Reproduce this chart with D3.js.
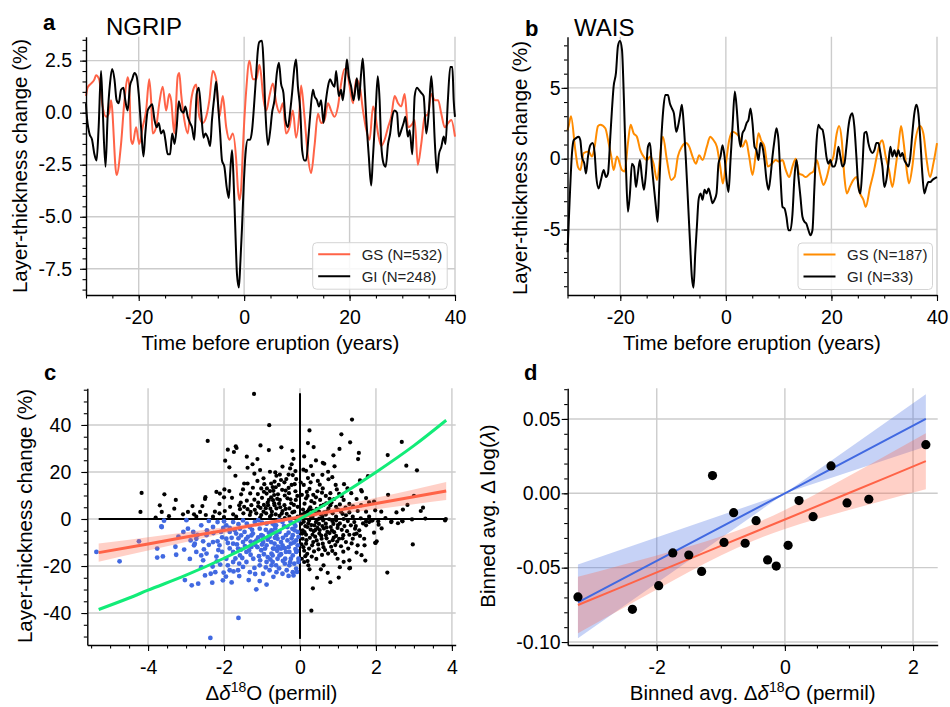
<!DOCTYPE html>
<html lang="en">
<head>
<meta charset="UTF-8">
<title>Layer thickness</title>
<script src="https://d3js.org/d3.v7.min.js"></script>
<style>
  html, body { margin: 0; padding: 0; background: #fff; }
  svg { display: block; }
</style>
</head>
<body>
<script>
const FONT = "Liberation Sans, Arial, Helvetica, sans-serif";

// panel a: NGRIP, [time, change %]
const ngripGS = [[-30,0.8],[-29.7,1.2],[-29.05,1.4],[-28.4,1.6],[-28.1,1.8],[-27.5,1.6],[-26.85,0.3],[-26.2,-0.2],[-25.6,0.0],[-25.25,0.6],[-24.2,-3.0],[-23.35,-1.5],[-22.7,0.6],[-22.1,1.7],[-21.8,1.3],[-21.45,-1.3],[-21.15,-1.5],[-20.5,-0.7],[-19.9,-1.5],[-19.25,-0.7],[-18.6,0.1],[-18.0,1.6],[-17.65,0.6],[-17.35,-1.0],[-16.7,-0.7],[-16.1,0.45],[-15.45,1.25],[-14.8,0.1],[-14.2,0.9],[-13.85,0.6],[-13.25,-1.0],[-12.6,1.75],[-12.3,1.9],[-11.95,0.9],[-11.35,-0.35],[-10.7,-1.0],[-10.05,0.6],[-9.45,1.25],[-9.1,1.35],[-8.5,-0.2],[-7.85,-0.5],[-7.2,-0.2],[-6.6,0.6],[-5.95,2.0],[-5.3,1.6],[-4.7,-0.2],[-4.05,0.8],[-3.4,-0.7],[-2.8,-1.3],[-2.15,-1.0],[-1.5,-2.3],[-1.2,-3.6],[-0.9,-4.2],[-0.55,-3.6],[-0.25,-1.8],[0.4,1.1],[1.0,2.5],[1.65,1.6],[2.3,1.6],[2.9,2.3],[3.25,1.75],[3.55,0.9],[4.2,0.1],[4.8,0.8],[5.45,1.4],[6.1,0.45],[6.7,0.0],[7.35,0.45],[7.95,-1.0],[8.6,-0.7],[9.25,0.1],[9.85,-1.2],[10.5,0.1],[10.8,1.3],[11.45,-0.2],[12.1,-2.1],[12.7,-2.9],[13.35,-1.6],[14.0,-0.05],[14.6,-0.5],[15.25,-0.35],[15.9,0.45],[16.5,0.1],[17.15,-0.2],[17.8,0.3],[18.4,1.4],[19.05,2.1],[19.7,1.75],[20.0,1.3],[20.65,0.45],[21.25,1.6],[21.9,1.3],[22.55,0.1],[23.15,-0.8],[23.8,-1.3],[24.45,0.3],[24.75,0.1],[25.4,-1.0],[26.0,-1.6],[26.65,-1.3],[27.3,-0.7],[27.9,-0.2],[28.55,0.8],[29.2,0.45],[29.8,0.3],[30.45,0.9],[31.1,-0.7],[32.0,-0.5],[32.35,-0.35],[32.95,-2.5],[33.6,-1.5],[34.25,-0.2],[34.9,-0.05],[35.5,0.9],[36.15,0.6],[36.8,0.6],[37.4,-0.05],[38.05,-0.7],[38.7,-0.5],[39.3,-0.35],[40,-1.15]];
const ngripGI = [[-30,0.45],[-29.9,0.0],[-29.35,-1.0],[-28.85,-1.3],[-28.4,-2.0],[-28.0,-2.3],[-27.6,-0.7],[-27.15,2.0],[-26.85,0.3],[-26.3,-2.6],[-25.9,-0.2],[-25.45,1.4],[-25.05,2.1],[-24.6,1.6],[-24.2,0.6],[-23.8,0.45],[-23.35,1.1],[-22.9,1.2],[-22.55,0.6],[-22.1,0.1],[-21.65,1.3],[-21.25,1.6],[-20.8,1.9],[-20.4,1.75],[-20.0,0.9],[-19.55,-0.7],[-19.1,-2.1],[-18.75,-1.0],[-18.3,0.1],[-17.85,0.3],[-17.45,0.4],[-17.0,-0.35],[-16.6,-0.7],[-16.2,-0.5],[-15.75,-1.0],[-15.3,-0.85],[-14.95,-1.3],[-14.5,-2.0],[-14.05,-2.0],[-13.65,-1.0],[-13.2,-1.5],[-12.8,-0.7],[-12.4,0.55],[-11.95,0.1],[-11.5,0.0],[-11.15,0.3],[-10.7,-0.2],[-10.25,-0.5],[-9.9,-0.7],[-9.45,-1.3],[-9.0,0.9],[-8.6,1.2],[-8.15,0.0],[-7.7,-1.2],[-7.35,-1.0],[-6.9,-1.2],[-6.45,-1.6],[-6.1,-0.35],[-5.65,0.8],[-5.3,1.5],[-5.0,0.6],[-4.55,-1.0],[-4.2,-2.3],[-3.75,-2.6],[-3.3,-3.6],[-2.9,-4.1],[-2.65,-2.9],[-2.3,-1.8],[-2.05,-2.9],[-1.65,-5.8],[-1.35,-7.8],[-1.0,-8.4],[-0.7,-7.1],[-0.4,-5.5],[-0.1,-3.6],[0.25,-2.0],[0.7,-1.3],[1.15,-1.3],[1.5,-0.85],[1.95,0.6],[2.3,1.9],[2.6,3.0],[2.9,3.4],[3.4,3.45],[3.65,2.55],[4.05,0.0],[4.5,-1.55],[4.95,-0.85],[5.3,0.0],[5.75,0.6],[6.2,1.9],[6.6,2.4],[7.0,1.4],[7.45,0.95],[7.85,-0.35],[8.3,-0.7],[8.75,0.1],[9.1,0.95],[9.55,2.2],[9.85,2.55],[10.2,1.25],[10.65,0.1],[11.0,-1.8],[11.45,-2.3],[11.75,-2.3],[12.25,-1.0],[12.5,-0.2],[13.05,1.1],[13.35,0.8],[13.8,0.6],[14.2,0.3],[14.6,0.6],[15.05,-0.5],[15.45,0.45],[15.9,1.25],[16.3,1.6],[16.7,1.4],[17.15,1.25],[17.45,2.0],[17.95,0.8],[18.4,1.1],[18.7,0.6],[19.25,1.9],[19.5,2.55],[19.85,1.75],[20.3,1.25],[20.75,0.6],[21.15,1.25],[21.4,1.65],[21.75,0.6],[22.2,1.9],[22.5,2.6],[22.85,1.25],[23.15,-0.2],[23.65,-2.1],[24.1,-3.5],[24.4,-2.3],[24.95,0.1],[25.35,1.75],[25.7,0.6],[26.0,-1.5],[26.45,-2.45],[26.85,-2.6],[27.3,-1.5],[27.7,-1.0],[28.1,-0.2],[28.55,0.1],[29.0,0.0],[29.35,-1.15],[29.8,-0.85],[30.25,-0.5],[30.6,-0.2],[31.05,-1.15],[31.4,-0.85],[31.9,-2.0],[32.35,0.8],[32.8,1.2],[33.15,1.1],[33.6,0.95],[34.05,0.8],[34.55,-1.0],[35.05,0.1],[35.5,1.75],[35.8,0.8],[36.15,-1.3],[36.6,-2.9],[36.95,-2.0],[37.4,-1.65],[37.85,-1.15],[38.2,-1.5],[38.65,0.6],[39.1,2.2],[39.5,2.2],[39.75,0.6],[40,-0.2]];

// panel b: WAIS
const waisGS = [[-30,2.0],[-29.78,2.3],[-29.34,3.0],[-28.52,0.6],[-28.01,-0.6],[-27.57,-0.8],[-26.94,0.4],[-25.99,0.5],[-25.36,0.15],[-24.86,0.85],[-24.23,2.3],[-23.79,2.4],[-22.84,2.15],[-22.21,1.1],[-21.7,0.15],[-21.26,-0.8],[-20.63,0.15],[-19.68,-0.8],[-19.18,-0.9],[-18.55,1.1],[-18.04,2.4],[-17.48,1.8],[-16.85,1.55],[-16.21,0.6],[-15.58,0.15],[-14.95,-0.1],[-14.32,0.15],[-13.69,-0.35],[-13.06,-1.5],[-11.92,1.55],[-11.17,-0.1],[-10.35,-1.5],[-9.72,-1.3],[-9.09,0.15],[-8.33,0.85],[-7.57,1.1],[-6.94,0.85],[-6.31,0.15],[-5.68,-0.35],[-5.05,0.25],[-4.42,-0.1],[-3.6,0.85],[-2.97,1.55],[-2.33,1.3],[-1.7,0.85],[-1.07,-0.55],[-0.57,-1.75],[0,-0.35],[0.63,1.3],[1.26,1.9],[1.89,1.8],[2.52,1.55],[3.15,0.85],[3.79,1.3],[4.42,0.15],[5.05,-1.15],[5.68,0.4],[6.18,1.8],[6.69,1.3],[7.32,0.85],[7.95,-0.55],[8.71,-0.35],[9.46,-0.1],[10.09,-0.2],[10.73,-0.1],[11.36,-0.8],[11.99,-1.3],[12.62,-0.55],[13.25,0.0],[13.88,-1.05],[14.51,-1.15],[15.14,-1.3],[15.96,-1.05],[16.59,-0.9],[17.22,-0.1],[17.85,-1.05],[18.49,-1.85],[19.12,-1.3],[19.75,-0.35],[20.38,0.15],[21.01,1.8],[21.45,2.3],[21.96,1.3],[22.46,-1.3],[22.9,-2.45],[23.53,-1.95],[24.16,-1.5],[24.79,-1.3],[25.43,-2.45],[26.06,-2.9],[26.5,-3.4],[27.32,-2.0],[27.95,-1.05],[28.58,0.15],[29.21,1.1],[29.65,1.3],[30.28,0.15],[30.91,-0.8],[31.55,-2.0],[32.18,-0.55],[32.68,0.85],[33.19,2.3],[33.63,1.3],[34.26,-0.8],[34.7,-1.75],[35.33,-0.55],[35.84,1.1],[36.78,2.3],[37.41,1.8],[38.04,-0.1],[38.68,-1.3],[39.31,-0.35],[40,1.1]];
const waisGI = [[-30,-6.6],[-29.59,-2.9],[-29.15,0.4],[-28.83,1.3],[-28.39,1.45],[-27.89,1.55],[-27.57,1.3],[-27.26,0.15],[-26.81,-0.35],[-26.5,-1.05],[-26.12,0.15],[-25.68,0.95],[-25.24,1.1],[-24.86,0.4],[-24.54,-1.3],[-24.1,-2.1],[-23.66,-1.5],[-23.15,-0.8],[-22.71,-1.3],[-22.33,-1.05],[-21.89,1.55],[-21.58,3.45],[-21.26,5.1],[-20.82,6.05],[-20.44,7.95],[-20.06,8.3],[-19.68,7.7],[-19.31,4.15],[-18.93,-0.55],[-18.55,-3.75],[-18.17,-2.45],[-17.79,-0.35],[-17.41,-0.55],[-17.03,-2.0],[-16.66,-1.05],[-16.28,-0.1],[-15.9,-1.3],[-15.52,-2.2],[-15.14,-1.05],[-14.76,0.85],[-14.38,1.1],[-14.01,-0.55],[-13.63,-2.0],[-13.25,-3.4],[-12.93,-4.45],[-12.62,-2.0],[-12.24,1.3],[-11.86,3.45],[-11.48,4.5],[-10.98,4.5],[-10.6,3.9],[-10.22,3.55],[-9.84,3.2],[-9.4,1.9],[-9.09,2.25],[-8.71,3.0],[-8.33,3.8],[-7.95,2.25],[-7.57,-0.1],[-7.19,-2.9],[-6.81,-5.75],[-6.44,-8.35],[-6.12,-9.1],[-5.8,-6.7],[-5.49,-4.8],[-5.17,-2.9],[-4.79,-2.45],[-4.42,-2.9],[-4.04,-2.2],[-3.66,-2.45],[-3.28,-2.1],[-2.9,-2.6],[-2.52,-3.15],[-2.15,-2.9],[-1.77,-2.45],[-1.39,-0.35],[-1.01,0.15],[-0.63,0.95],[-0.25,0.15],[0.13,-1.5],[0.5,-2.35],[0.88,-0.1],[1.26,2.25],[1.7,4.75],[2.08,3.45],[2.4,1.8],[2.78,0.85],[3.15,1.8],[3.53,2.05],[3.91,2.5],[4.29,2.75],[4.67,3.55],[5.05,2.5],[5.43,0.85],[5.8,0.6],[6.18,-0.1],[6.56,1.1],[6.94,0.85],[7.32,-0.1],[7.7,-1.5],[8.08,-2.2],[8.45,-1.3],[8.83,0.15],[9.21,1.3],[9.59,2.15],[9.97,1.3],[10.35,-1.3],[10.73,-3.4],[11.1,-3.5],[11.48,-4.1],[11.86,-5.05],[12.24,-5.05],[12.62,-3.9],[13.0,-1.3],[13.38,-0.1],[13.75,-1.3],[14.13,-2.7],[14.51,-4.1],[14.89,-4.45],[15.27,-4.6],[15.65,-5.05],[16.03,-5.4],[16.4,-5.05],[16.78,-2.0],[17.16,1.1],[17.54,2.4],[17.92,2.15],[18.3,2.05],[18.68,1.3],[19.05,0.15],[19.43,-0.35],[19.81,-0.1],[20.19,-0.55],[20.57,-0.55],[20.95,-0.1],[21.32,0.85],[21.7,0.15],[22.08,-0.55],[22.46,-0.35],[22.84,0.85],[23.22,2.25],[23.6,3.0],[23.97,3.2],[24.35,2.25],[24.73,0.15],[25.11,-2.0],[25.49,-2.45],[25.87,-0.55],[26.25,1.8],[26.62,1.9],[27.0,1.1],[27.38,0.6],[27.76,0.4],[28.14,0.6],[28.52,1.1],[28.9,1.1],[29.27,0.4],[29.65,-0.55],[30.03,-2.0],[30.41,-1.5],[30.79,-0.35],[31.17,0.85],[31.55,0.15],[31.92,0.6],[32.3,0.15],[32.68,0.6],[33.06,0.15],[33.44,0.4],[33.82,-0.1],[34.2,-0.35],[34.57,-0.55],[34.95,0.15],[35.33,1.8],[35.71,3.2],[36.09,3.8],[36.47,3.2],[36.85,1.3],[37.22,-1.05],[37.6,-2.45],[37.98,-2.0],[38.36,-1.65],[38.74,-1.65],[39.12,-1.5],[39.5,-1.4],[40,-1.3]];

// panel c: scatter [d18O change, layer-thickness change %]
const cBlack = [[-1.21,53.2],[-0.81,39.9],[-2.43,33.2],[-1.9,29.5],[-1.69,30.9],[-1.67,30.2],[-1.74,28.5],[-1.04,31.3],[-0.82,29.3],[-1.97,24.8],[-1.86,22.0],[-1.4,26.5],[-1.25,23.3],[-1.12,25.5],[-1.38,21.8],[-0.79,20.1],[-1.7,18.4],[-1.2,19.3],[-0.96,17.3],[-1.12,16.2],[-1.47,15.1],[-1.38,15.1],[-0.94,14.8],[-0.62,18.4],[-0.76,15.1],[-4.17,11.1],[-3.57,10.5],[-4.2,3.0],[-3.69,5.8],[-3.64,3.0],[-3.27,8.1],[-3.31,4.4],[-2.83,5.5],[-2.95,3.0],[-2.57,5.5],[-2.49,9.3],[-2.5,8.5],[-2.2,11.5],[-2.11,10.8],[-1.99,12.6],[-1.86,11.9],[-2.0,9.2],[-2.12,6.4],[-1.79,9.0],[-1.55,10.5],[-1.31,10.9],[-1.24,13.3],[-1.11,10.6],[-1.02,13.0],[-0.88,10.8],[-0.79,11.9],[-0.68,10.2],[-0.72,13.6],[-0.87,13.0],[-0.82,8.1],[-0.64,13.5],[-2.63,3.0],[-2.79,2.0],[-2.48,1.7],[-2.24,3.1],[-2.12,2.4],[-1.98,3.4],[-1.84,5.2],[-1.76,2.0],[-1.56,7.0],[-1.58,4.2],[-1.47,5.2],[-1.38,4.2],[-1.28,5.9],[-1.19,3.9],[-1.1,7.0],[-1.04,4.7],[-0.96,3.1],[-0.84,5.9],[-0.78,4.4],[-0.71,8.0],[-0.67,5.8],[-1.49,2.4],[-1.32,1.7],[-1.15,2.4],[-1.02,1.7],[-0.89,2.4],[-0.75,1.7],[-0.64,2.0],[-3.08,2.0],[-2.73,1.0],[-2.29,1.0],[-1.68,1.0],
[1.37,42.3],[0.25,37.7],[1.09,36.0],[0.21,32.3],[0.36,30.6],[1.32,32.6],[1.04,29.8],[-0.49,30.5],[1.55,28.1],[1.53,25.5],[0.88,27.1],[-0.17,25.6],[0.11,26.6],[0.42,24.9],[0.64,23.5],[0.6,23.9],[0.29,22.5],[0.91,22.4],[-0.46,22.3],[-0.22,23.3],[-0.26,21.5],[0.09,21.0],[0.74,20.1],[0.34,18.8],[0.59,18.8],[-0.53,18.9],[-0.65,19.8],[-0.3,18.9],[-0.19,18.7],[-0.12,20.4],[0.21,17.4],[0.47,16.2],[0.75,16.9],[0.94,14.5],[1.16,14.8],[1.58,16.4],[1.79,18.2],[-0.67,15.9],[-0.56,14.5],[-0.41,15.6],[-0.22,14.5],[-0.38,12.1],[-0.14,14.8],[-0.7,12.0],[-0.47,12.4],[-0.29,11.0],[0.1,14.5],[0.25,12.8],[0.35,10.3],[0.6,13.0],[0.8,11.0],[1.03,10.7],[1.35,11.0],[1.63,11.7],[1.74,8.9],[-0.76,9.2],[-0.53,8.1],[-0.33,8.8],[-0.11,8.1],[0.05,10.3],[0.16,8.8],[0.3,7.6],[0.53,8.1],[0.69,6.7],[0.9,8.5],[1.15,8.1],[1.3,6.4],[1.49,8.5],[1.61,5.9],[1.82,7.1],[1.95,7.4],[2.31,27.2],[2.68,32.8],[2.8,22.7],[3.08,20.7],[2.32,10.3],[3.0,9.9],[2.71,4.0],[2.54,2.8],[3.24,4.8],[3.18,3.4],[2.83,6.0],[1.98,3.7],[2.14,3.1],[1.74,3.1],[1.52,3.4],[1.3,2.8],[1.08,3.1],[0.86,2.4],[0.64,2.8],[0.42,2.4],[0.2,3.1],[0.07,2.0],[-0.74,3.1],[-0.62,4.5],[-0.46,3.4],[-0.28,4.5],[-0.15,3.1],[-0.06,5.2],[-0.68,6.7],[-0.41,5.9],[-0.23,6.7],[-0.07,9.8],[-0.79,1.0],[-0.54,1.3],[-0.28,1.0],[-0.06,1.0],[0.29,1.0],[0.59,1.0],[0.95,1.0],[1.39,1.0],[1.82,1.0],
[3.84,0],[2.69,-0.7],[2.41,-1.1],[2.06,-1.0],[1.88,-0.7],[1.98,-10.1],[2.97,-10.8],[2.3,-22.8],[1.72,-17.7],[1.3,-21.0],[1.02,-24.9],[0.8,-26.9],[0.34,-29.5],[0.3,-39.0],[1.61,12.3],[0.25,-21.4],[0.55,-21.4],[0.62,-19.7],[0.73,-22.9],[1.32,-20.8],[1.3,-17.6],[1.99,-10.2],[2.02,-9.5],[1.7,-11.2],[1.49,-14.3],[1.27,-12.6],[1.14,-13.9],[0.99,-16.9],[0.85,-13.6],[0.74,-14.7],[0.58,-15.3],[0.49,-12.9],[0.31,-16.0],[0.2,-17.9],[0.11,-13.5],[0.16,-10.5],[0.32,-11.2],[0.44,-9.1],[0.6,-10.5],[0.77,-9.8],[0.93,-11.1],[1.03,-8.4],[1.21,-9.8],[1.39,-8.4],[1.52,-11.2],[1.69,-8.4],[1.3,-6.7],[1.43,-6.5],[1.49,-6.2],[1.14,-6.9],[0.95,-7.2],[0.84,-4.8],[0.68,-6.9],[0.51,-6.2],[0.33,-6.7],[0.16,-6.7],[0.07,-4.8],[0.2,-3.4],[0.38,-2.7],[0.46,-3.8],[0.59,-3.0],[0.68,-2.0],[0.81,-3.4],[0.99,-3.8],[1.17,-3.0],[1.34,-2.7],[1.47,-3.0],[1.74,-2.7],[1.82,-1.3],[1.91,-0.6],[2.07,-2.4],[1.74,-1.0],[2.4,-1.3],[2.7,-1.0],[3.82,-0.6],[0.03,-2.0],[0.05,0.2],[0.24,-0.6],[0.42,-1.3],[0.61,-0.6],[0.77,-0.1],[0.95,-0.6],[0.51,0.2],[0.16,1.6],[0.33,0.9],[0.68,1.9],[1.21,1.6],[1.43,-1.3],[1.56,-4.8],[0.07,-8.4],[0.24,-12.6],[0.05,-16.9],[0.11,-18.3],[0.22,-19.7],
[0.1,-1.2],[0.14,-3.0],[0.28,-4.5],[0.36,-5.2],[0.45,-0.4],[0.52,-4.7],[0.63,-4.0],[0.72,-5.5],[0.88,-2.1],[0.9,-5.6],[1.05,-1.9],[1.1,-4.6],[0.26,-8.0],[0.4,-7.5],[0.57,-8.4],[0.7,-8.2],[0.86,-9.0],[0.12,-5.6],[0.04,-10.8],[0.19,-14.8],[0.37,-13.8],[0.43,-17.0],[0.62,-12.0],[0.93,-14.8],[1.08,-11.6],[0.08,4.0],[0.27,5.0],[0.44,4.3],[0.55,5.6],[0.75,4.5],[0.95,5.2],[1.2,4.8],[0.12,6.5],[0.38,6.8],[0.83,7.0],[1.05,6.2],[0.18,11.5],[0.46,11.8],[0.68,9.8],[0.97,12.6],[1.25,13.0],[-0.35,2.2],[-0.52,5.0],[-0.2,2.8],[-0.85,7.0],[-1.0,9.0],[-1.2,8.2],[-0.95,6.0],[-1.4,7.8],[-0.58,10.5],[-0.4,10.0],[-0.12,11.8],[-0.1,17.0],[-0.36,17.0],[0.02,15.5],[0.55,2.0],[0.85,-0.8],[1.15,0.0],[1.6,0.3],[2.25,0.4],[2.95,-0.2],[3.3,0.2],[-3.8,0.6],[-3.45,1.2],[-2.0,0.8],[-1.05,0.5],[-0.4,0.4],[2.58,-1.8],[2.15,-4.0],[1.95,-5.8],[1.62,-15.4],[1.15,-18.2],[0.45,-25.0],[1.05,-20.5],
[0.06,-6.2],[0.09,-12.0],[0.14,-15.8],[0.17,-9.0],[0.22,-1.8],[0.3,-2.6],[0.35,-9.8],[0.41,-4.6],[0.48,-10.8],[0.5,-2.1],[0.56,-7.1],[0.66,-13.2],[0.7,-3.6],[0.78,-6.0],[0.82,-11.8],[0.89,-7.9],[0.98,-9.6],[1.0,-2.6],[1.12,-8.2],[1.24,-5.2],[1.26,-0.9],[1.36,-10.4],[1.45,-4.1],[1.58,-7.2],[1.66,-1.9],[0.13,2.6],[0.24,4.1],[0.33,3.6],[0.5,3.2],[0.62,6.0],[0.72,3.3],[0.8,5.8],[1.0,4.0],[1.12,2.2],[1.4,5.4],[0.2,9.8],[0.42,9.2],[0.58,11.2],[0.78,8.6],[1.1,9.7],[0.28,15.6],[0.52,14.6],[0.85,17.8],[0.16,20.5],[-0.55,6.5],[-0.38,4.3],[-0.25,8.4],[-0.16,6.0],[-0.48,2.3],[-0.9,4.6],[-1.1,5.4],[-1.3,3.0],[-1.6,5.8],[-0.6,8.6],[-0.95,11.6],[-0.3,13.2],[-1.5,12.6],[-0.5,16.6],[-1.05,20.8],[-0.2,29.0]];
const cBlue = [[-5.36,-14.0],[-4.75,-18.0],[-4.24,-9.5],[-3.76,-12.6],[-3.76,-16.4],[-3.61,-15.9],[-3.64,-3.4],[-3.58,-0.7],[-3.28,-11.8],[-3.26,-15.2],[-3.03,-26.0],[-2.85,-28.2],[-2.68,-27.5],[-2.95,-4.1],[-2.88,-9.1],[-2.77,-10.5],[-2.99,-0.5],[-2.79,-11.2],[-2.73,-8.4],[-2.55,-17.6],[-2.53,-12.9],[-2.46,-6.9],[-2.35,-23.3],[-2.31,-27.1],[-2.23,-22.6],[-2.19,-18.0],[-2.17,-9.5],[-2.05,-14.0],[-2.01,-22.8],[-2.03,-26.1],[-2.1,-19.4],[-1.9,-19.7],[-1.85,-21.8],[-1.75,-22.3],[-1.63,-21.8],[-1.62,-42.1],[-2.36,-50.6],[-1.6,-24.3],[-1.15,-29.9],[-1.06,-26.4],[-0.88,-27.9],[-3.07,-5.5],[-2.81,-5.5],[-2.6,-2.7],[-2.45,-4.8],[-2.29,-3.4],[-2.17,-1.3],[-1.94,-2.7],[-1.76,-1.3],[-1.5,-0.6],[-1.32,-3.4],[-1.19,-1.3],[-1.06,-4.1],[-0.88,-2.0],[-0.75,-4.8],[-0.67,-2.7],[-2.29,-9.8],[-2.12,-11.2],[-1.94,-8.4],[-1.76,-10.5],[-1.63,-12.6],[-1.5,-9.8],[-1.41,-14.0],[-1.28,-11.9],[-1.15,-9.1],[-1.02,-13.3],[-0.88,-11.2],[-0.75,-14.7],[-0.67,-10.5],[-1.94,-16.9],[-1.76,-18.3],[-1.58,-15.5],[-1.41,-18.3],[-1.23,-16.9],[-1.06,-19.7],[-0.88,-18.3],[-0.75,-19.7],[-1.32,-22.6],[-1.5,-20.4],[-0.97,-23.3],[-0.8,-21.8],[-1.76,-14.0],[-2.08,-5.5],[-1.85,-5.5],[-1.68,-6.2],[-1.46,-5.5],[-1.24,-6.2],[-1.02,-6.9],[-0.8,-7.6],[-0.62,-6.9],[-1.58,-4.1],[-1.37,-7.6],[-1.19,-9.8],[-0.97,-9.8],[-0.71,-12.6],[-2.6,-15.5],[-2.46,-14.7],[-2.73,-14.0],
[-0.72,-5.5],[-0.59,-8.4],[-0.46,-11.2],[-0.33,-9.1],[-0.19,-6.9],[-0.06,-5.5],[-0.68,-12.6],[-0.54,-15.5],[-0.37,-14.0],[-0.24,-16.9],[-0.1,-14.0],[-0.04,-16.9],[-0.72,-18.3],[-0.63,-19.7],[-0.46,-23.3],[-0.4,-19.0],[-0.19,-22.6],[-0.17,-24.0],[-0.28,-19.7],[-0.15,-19.0],[-0.06,-11.2],[-0.63,-2.7],[-0.46,-1.3],[-0.33,-3.4],[-0.15,-2.0],[-0.04,-0.6],[-0.76,-9.8],[-0.54,-5.5],[-0.37,-6.9],[-0.24,-10.5],[-0.1,-9.1],[-0.04,-7.6],[-0.5,-12.6],[-0.28,-14.0],[-0.59,-16.9],[-0.1,-21.1],[-0.04,-18.3],[-0.72,-15.5],[-0.39,-16.9],[-0.19,-15.5],
[-3.65,-3.2],[-2.4,-0.8],[-2.0,-1.0],[-1.62,-2.2],[-1.4,-2.0],[-1.1,-0.5],[-0.9,-4.6],[-0.55,-0.6],[-0.25,-1.0],[-1.85,-12.5],[-1.55,-13.0],[-1.3,-15.2],[-1.12,-12.0],[-0.95,-15.0],[-0.6,-13.5],[-0.3,-12.0],[-0.12,-12.8],[-0.45,-8.0],[-0.85,-8.8],[-1.1,-7.8],[-1.3,-9.6],[-1.62,-8.2],[-2.05,-7.8],[-2.4,-11.0],[-2.55,-9.5],[-2.2,-16.0],[-1.7,-16.8],[-1.2,-20.8],[-0.55,-21.0],[-0.3,-24.2],[-0.85,-16.2],[-1.45,-11.5],[-1.0,-10.9],[-0.65,-4.0],[-0.2,-4.2],[-0.12,-3.0],[-1.85,-3.8],[-2.7,-6.8],[-3.2,-7.5],[-3.05,-13.0],[-2.9,-17.0],[-2.6,-20.5],[-1.95,-24.5],[-1.35,-26.0],[-1.8,-27.0],[-2.5,-24.0],[-0.7,-24.6],[-0.45,-17.8],[-0.08,-22.5],
[-0.14,-4.8],[-0.22,-8.2],[-0.3,-5.8],[-0.42,-3.0],[-0.5,-9.8],[-0.58,-11.8],[-0.66,-8.0],[-0.82,-5.8],[-0.92,-12.6],[-0.98,-7.2],[-1.08,-15.8],[-1.18,-11.0],[-1.26,-4.6],[-1.34,-13.4],[-1.42,-8.6],[-1.52,-16.6],[-1.66,-10.8],[-1.72,-4.8],[-1.9,-10.2],[-2.02,-3.8],[-2.15,-13.2],[-2.28,-6.0],[-0.08,-13.6],[-0.35,-21.8],[-0.62,-22.6],[-0.9,-20.6],[-1.18,-23.4],[-0.26,-18.4],[-0.5,-15.0],[-0.78,-17.2],[-1.05,-17.6],[-1.6,-19.0],[-2.3,-20.2],[-0.16,-10.0],[-0.4,-12.4],[-0.72,-2.0],[-1.0,-1.6],[-1.28,-7.0],[-1.55,-7.0],[-1.8,-8.0]];
// linear fit with band [x, fit, lo, hi]
const cRedFit = [[-5.3,-14.3,-18.2,-10.4],[-4,-10.6,-13.45,-7.75],[-3,-7.7,-9.8,-5.6],[-2,-4.85,-6.2,-3.5],[-1,-2.0,-2.85,-1.15],[0,0.85,-0.15,1.85],[1,3.7,2.1,5.3],[2,6.6,4.2,9.0],[3,9.45,6.3,12.6],[3.85,11.9,8.05,15.75]];
const cGreen = [[-5.3,-38.5],[-4.5,-33.6],[-4,-30.3],[-3,-23.9],[-2,-16.7],[-1,-8.7],[0,0],[1,9.5],[2,19.9],[3,31.2],[3.85,42.0]];
const cCrossX = [-5.3, 3.85];
const cCrossY = [-51, 53.5];

// panel d: binned averages
const dDots = [[-3.23,-0.0697],[-2.38,-0.078],[-1.97,-0.0621],[-1.75,-0.0401],[-1.5,-0.0415],[-1.3,-0.0525],[-1.13,0.0119],[-0.95,-0.033],[-0.8,-0.013],[-0.62,-0.0336],[-0.45,-0.0184],[-0.27,-0.0448],[-0.135,-0.0489],[0.05,-0.035],[0.22,-0.0049],[0.44,-0.0157],[0.72,0.0184],[0.97,-0.0065],[1.31,-0.004],[2.2,0.0327]];
const dBlueFit = [[-3.23,-0.0734,-0.0975,-0.0478],[0,0,0,0],[2.2,0.05,0.0314,0.0666]];
const dRedFit = [[-3.23,-0.0751,-0.0941,-0.0561],[-2.6,-0.0639,-0.0789,-0.0489],[-2,-0.0532,-0.0646,-0.0418],[-1,-0.0354,-0.0418,-0.029],[-0.5,-0.0265,-0.032,-0.021],[0,-0.0176,-0.024,-0.0112],[1,0.0002,-0.0112,0.0116],[1.6,0.0109,-0.0041,0.0259],[2.2,0.0216,0.0028,0.0404]];

const RED = "#ff6347", ORANGE = "#ff8c00", BLUE = "#4169e1", GREEN = "#12ec78";

const svg = d3.select("body").append("svg").attr("width", 950).attr("height", 707)
  .attr("font-family", FONT);

function panel(o) {
  const x = d3.scaleLinear().domain(o.xd).range([o.l, o.r]);
  const y = d3.scaleLinear().domain(o.yd).range([o.b, o.t]);
  const g = svg.append("g");
  g.append("g").selectAll("line").data(o.xt).join("line")
    .attr("x1", d => x(d)).attr("x2", d => x(d)).attr("y1", o.t).attr("y2", o.b)
    .attr("stroke", "#cccccc").attr("stroke-width", 1.4);
  g.append("g").selectAll("line").data(o.yt).join("line")
    .attr("y1", d => y(d)).attr("y2", d => y(d)).attr("x1", o.l).attr("x2", o.r)
    .attr("stroke", "#cccccc").attr("stroke-width", 1.4);
  const plot = g.append("g");
  const ax = g.append("g").attr("color", "#000");
  ax.append("g").attr("transform", `translate(0,${o.b})`)
    .call(d3.axisBottom(x).tickValues(o.xm).tickSize(3.5).tickFormat("").tickSizeOuter(0))
    .call(s => s.select(".domain").remove());
  ax.append("g").attr("transform", `translate(${o.l},0)`)
    .call(d3.axisLeft(y).tickValues(o.ym).tickSize(3.5).tickFormat("").tickSizeOuter(0))
    .call(s => s.select(".domain").remove());
  const xa = ax.append("g").attr("transform", `translate(0,${o.b})`)
    .call(d3.axisBottom(x).tickValues(o.xt).tickSize(6).tickPadding(9).tickSizeOuter(0).tickFormat(o.xf));
  const ya = ax.append("g").attr("transform", `translate(${o.l},0)`)
    .call(d3.axisLeft(y).tickValues(o.yt).tickSize(6).tickPadding(o.ypad).tickSizeOuter(0).tickFormat(o.yf));
  [xa, ya].forEach(a => {
    a.attr("font-size", 19.5).attr("font-family", FONT);
    a.select(".domain").attr("stroke-width", 1.4);
  });
  ax.selectAll(".tick line").attr("stroke-width", 1.1);
  return {x, y, plot};
}

function ylabel(x, y, txt) {
  return svg.append("text").attr("transform", `translate(${x},${y}) rotate(-90)`)
    .attr("text-anchor", "middle").attr("font-size", 20.5).text(txt);
}
function xlabel(x, y) {
  return svg.append("text").attr("x", x).attr("y", y)
    .attr("text-anchor", "middle").attr("font-size", 20.5);
}
function legend(x0, y0, items) {
  const g = svg.append("g");
  g.append("rect").attr("x", x0).attr("y", y0).attr("width", 134.5).attr("height", 46.5)
    .attr("rx", 4).attr("fill", "#fff").attr("fill-opacity", 0.85)
    .attr("stroke", "#d4d4d4").attr("stroke-width", 1);
  items.forEach((it, i) => {
    const yy = y0 + 11.5 + i * 22;
    g.append("line").attr("x1", x0 + 5.5).attr("x2", x0 + 37.5).attr("y1", yy).attr("y2", yy)
      .attr("stroke", it.c).attr("stroke-width", 2);
    g.append("text").attr("x", x0 + 49).attr("y", yy + 5.5).attr("font-size", 15)
      .attr("fill", "#222").text(it.t);
  });
}
const fmt = d => String(d);

// ---------- a ----------
const A = panel({l: 86, r: 455, t: 36.7, b: 295, xd: [-30, 40], yd: [-8.76, 3.65],
  xt: [-20, 0, 20, 40], yt: [-7.5, -5, -2.5, 0, 2.5],
  xm: d3.range(-30, 41, 5), ym: d3.range(-8.5, 3.6, 0.5), xf: fmt, yf: d => d.toFixed(1), ypad: 8});
const lineA = d3.line().x(d => A.x(d[0])).y(d => A.y(d[1])).curve(d3.curveMonotoneX);
A.plot.append("path").datum(ngripGS).attr("d", lineA).attr("fill", "none").attr("stroke", RED).attr("stroke-width", 2);
A.plot.append("path").datum(ngripGI).attr("d", lineA).attr("fill", "none").attr("stroke", "#000").attr("stroke-width", 2);
legend(312.7, 242.7, [{c: RED, t: "GS (N=532)"}, {c: "#000", t: "GI (N=248)"}]);
ylabel(27, 166, "Layer-thickness change (%)");
xlabel(270.5, 350).text("Time before eruption (years)");
svg.append("text").attr("x", 43).attr("y", 30).attr("font-size", 22).attr("font-weight", "bold").text("a");
svg.append("text").attr("x", 106).attr("y", 35).attr("font-size", 24).text("NGRIP");

// ---------- b ----------
const B = panel({l: 567.5, r: 937, t: 36.7, b: 295, xd: [-30, 40], yd: [-9.62, 8.61],
  xt: [-20, 0, 20, 40], yt: [-5, 0, 5],
  xm: d3.range(-30, 41, 5), ym: d3.range(-9, 8.1, 1), xf: fmt, yf: fmt, ypad: 1});
const lineB = d3.line().x(d => B.x(d[0])).y(d => B.y(d[1])).curve(d3.curveMonotoneX);
B.plot.append("path").datum(waisGS).attr("d", lineB).attr("fill", "none").attr("stroke", ORANGE).attr("stroke-width", 2);
B.plot.append("path").datum(waisGI).attr("d", lineB).attr("fill", "none").attr("stroke", "#000").attr("stroke-width", 2);
legend(798, 243, [{c: ORANGE, t: "GS (N=187)"}, {c: "#000", t: "GI (N=33)"}]);
ylabel(527, 168, "Layer-thickness change (%)");
xlabel(752, 350).text("Time before eruption (years)");
svg.append("text").attr("x", 525).attr("y", 36).attr("font-size", 22).attr("font-weight", "bold").text("b");
svg.append("text").attr("x", 574).attr("y", 36).attr("font-size", 24).text("WAIS");

// ---------- c ----------
const C = panel({l: 87.3, r: 455.7, t: 388.3, b: 645, xd: [-5.6, 4.1], yd: [-53.6, 55.6],
  xt: [-4, -2, 0, 2, 4], yt: [-40, -20, 0, 20, 40],
  xm: d3.range(-5.5, 4.1, 0.5), ym: d3.range(-50, 56, 5), xf: fmt, yf: fmt, ypad: 10});
C.plot.append("line").attr("x1", C.x(cCrossX[0])).attr("x2", C.x(cCrossX[1]))
  .attr("y1", C.y(0)).attr("y2", C.y(0)).attr("stroke", "#000").attr("stroke-width", 2);
C.plot.append("line").attr("x1", C.x(0)).attr("x2", C.x(0))
  .attr("y1", C.y(cCrossY[0])).attr("y2", C.y(cCrossY[1])).attr("stroke", "#000").attr("stroke-width", 2);
C.plot.append("g").selectAll("circle").data(cBlack).join("circle")
  .attr("cx", d => C.x(d[0])).attr("cy", d => C.y(d[1])).attr("r", 2.1).attr("fill", "#000");
C.plot.append("g").selectAll("circle").data(cBlue).join("circle")
  .attr("cx", d => C.x(d[0])).attr("cy", d => C.y(d[1])).attr("r", 2.4).attr("fill", BLUE);
C.plot.append("path").datum(cRedFit)
  .attr("d", d3.area().x(d => C.x(d[0])).y0(d => C.y(d[2])).y1(d => C.y(d[3])).curve(d3.curveMonotoneX))
  .attr("fill", RED).attr("fill-opacity", 0.3);
C.plot.append("path").datum(cRedFit)
  .attr("d", d3.line().x(d => C.x(d[0])).y(d => C.y(d[1])))
  .attr("fill", "none").attr("stroke", RED).attr("stroke-width", 3);
C.plot.append("path").datum(cGreen)
  .attr("d", d3.line().x(d => C.x(d[0])).y(d => C.y(d[1])).curve(d3.curveMonotoneX))
  .attr("fill", "none").attr("stroke", GREEN).attr("stroke-width", 3);
ylabel(32, 516, "Layer-thickness change (%)");
{
  const t = xlabel(271.5, 700);
  t.append("tspan").text("Δ");
  t.append("tspan").attr("font-style", "italic").text("δ");
  t.append("tspan").attr("dy", -8).attr("font-size", 14).text("18");
  t.append("tspan").attr("dy", 8).text("O (permil)");
}
svg.append("text").attr("x", 44).attr("y", 380).attr("font-size", 22).attr("font-weight", "bold").text("c");

// ---------- d ----------
const D = panel({l: 567.7, r: 937.7, t: 388.3, b: 645, xd: [-3.39, 2.385], yd: [-0.102, 0.0706],
  xt: [-2, 0, 2], yt: [-0.1, -0.05, 0, 0.05],
  xm: d3.range(-3, 2.4, 0.5), ym: d3.range(-0.1, 0.0705, 0.01), xf: fmt, yf: d => d.toFixed(2), ypad: 1});
const bandD = d3.area().x(d => D.x(d[0])).y0(d => D.y(d[2])).y1(d => D.y(d[3]));
const lineD = d3.line().x(d => D.x(d[0])).y(d => D.y(d[1]));
D.plot.append("path").datum(dBlueFit).attr("d", bandD).attr("fill", BLUE).attr("fill-opacity", 0.3);
D.plot.append("path").datum(dRedFit).attr("d", bandD.curve(d3.curveMonotoneX)).attr("fill", RED).attr("fill-opacity", 0.3);
D.plot.append("path").datum(dBlueFit).attr("d", lineD).attr("fill", "none").attr("stroke", BLUE).attr("stroke-width", 2);
D.plot.append("path").datum(dRedFit).attr("d", lineD).attr("fill", "none").attr("stroke", RED).attr("stroke-width", 2);
D.plot.append("g").selectAll("circle").data(dDots).join("circle")
  .attr("cx", d => D.x(d[0])).attr("cy", d => D.y(d[1])).attr("r", 4.6).attr("fill", "#000");
{
  const t = svg.append("text").attr("transform", "translate(495,516) rotate(-90)")
    .attr("text-anchor", "middle").attr("font-size", 20.5);
  t.append("tspan").text("Binned avg. Δ log(");
  t.append("tspan").attr("font-style", "italic").text("λ");
  t.append("tspan").text(")");
  const u = xlabel(752.7, 700);
  u.append("tspan").text("Binned avg. Δ");
  u.append("tspan").attr("font-style", "italic").text("δ");
  u.append("tspan").attr("dy", -8).attr("font-size", 14).text("18");
  u.append("tspan").attr("dy", 8).text("O (permil)");
}
svg.append("text").attr("x", 524).attr("y", 380).attr("font-size", 22).attr("font-weight", "bold").text("d");
</script>
</body>
</html>
